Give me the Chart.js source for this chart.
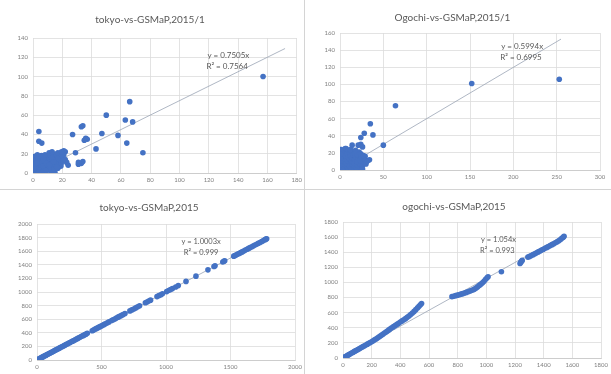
<!DOCTYPE html>
<html>
<head>
<meta charset="utf-8">
<script src="https://cdn.jsdelivr.net/npm/chart.js@4/dist/chart.umd.min.js"></script>
<style>
  html, body { margin: 0; padding: 0; background: #ffffff; }
  body { width: 611px; height: 374px; position: relative; overflow: hidden; }
  .panel { position: absolute; background: #ffffff; box-sizing: border-box; }
  .panel canvas { position: absolute; left: 0; top: 0; }
  #p1 { left: 0; top: 0; width: 305px; height: 190px; border-right: 1px solid #d4d4d4; border-bottom: 1px solid #d4d4d4; }
  #p2 { left: 305px; top: 0; width: 306px; height: 190px; border-bottom: 1px solid #d4d4d4; }
  #p3 { left: 0; top: 190px; width: 305px; height: 184px; border-right: 1px solid #d4d4d4; }
  #p4 { left: 305px; top: 190px; width: 306px; height: 184px; }
</style>
</head>
<body>
<div class="panel" id="p1"><canvas id="c1" width="305" height="190"></canvas></div>
<div class="panel" id="p2"><canvas id="c2" width="306" height="190"></canvas></div>
<div class="panel" id="p3"><canvas id="c3" width="305" height="184"></canvas></div>
<div class="panel" id="p4"><canvas id="c4" width="306" height="184"></canvas></div>
<script>
// ---- Titles ----
const titles = [
  'tokyo-vs-GSMaP,2015/1',
  'Ogochi-vs-GSMaP,2015/1',
  'tokyo-vs-GSMaP,2015',
  'ogochi-vs-GSMaP,2015'
];

// ---- Fitted trendlines (y = slope * x) ----
const slopes = [0.7505, 0.5994, 1.0003, 1.054];
const rSquared = ['0.7564', '0.6995', '0.999', '0.993'];
const slopeLabels = ['0.7505', '0.5994', '1.0003', '1.054'];
const trendEnds = [172, 255, 1780, 1540];

// ---- Axis ranges and tick steps ----
const xMax = [180, 300, 2000, 1800];
const xStep = [20, 50, 500, 200];
const yMax = [140, 160, 2000, 1800];
const yStep = [20, 20, 200, 200];

// ---- Tokyo, January 2015: daily pairs [GSMaP, gauge] ----
const tokyoJan = [
  [157,100],[66,74],[50,60],[63,55],[68,53],[33,48],[34,49],[4,43],[27,40],[47,41],
  [58,39],[36,36],[37,35],[35,34],[4,33],[6,31],[64,31],[43,25],[75,21],[29,21],
  [22,22],[21,23],[20,21],[24,8],[33,10],[34,12],[31,9],[31,11],[15,0.5],
  [0.5,1],[1,3],[1.5,0.5],[2,5],[0.8,8],[1.2,12],[2.5,15],[1,17],[3,2],[3.5,6],
  [4,10],[2,13.5],[4.5,14],[5,3],[5.5,8],[6,12],[6.5,16],[7,1],[7.5,5],[8,9],
  [8.5,13],[9,17],[9.5,3],[10,7],[10.5,11],[11,15],[11.5,19],[12,2],[12.5,6],[13,10],
  [13.5,14],[14,18],[14.5,4],[15,8],[15.5,12],[16,16],[16.5,20],[17,5],[17.5,10],[18,14],
  [18.5,18],[19,7],[19.5,12],[20,16],[21,19],[22,14],[23,11],[3,19],[0.3,4],[0.6,6],
  [1.8,9.5],[2.8,11],[3.2,16],[5.8,18],[7.2,14],[8.2,19],[6.8,7],[9.2,10],[10.8,4],[12.8,16],
  [13.2,20.5],[15.8,19],[17.2,15],[4.2,1.2],[6.2,0.5],[8.8,2.5],[11.2,8.5],[14.2,11.5],[16.2,6.5],[19.2,9.5],
  [20.5,13],[11,21],[13,22],[17,21],[19.5,22]
];

// ---- Ogochi, January 2015: daily pairs [GSMaP, gauge] ----
const ogochiJan = [
  [152,101],[253,106],[64,75],[35,54],[38,41],[28,43],[24,38],[50,29],[21,29],[24,30],
  [26,27],[14,29],[29,16],[34,12],[32,11],[6,25],
  [0.5,1],[1,4],[1.5,8],[2,12],[1,16],[2,20],[1.5,24],[3,2],[4,6],[3.5,10],
  [4.5,14],[3,18],[4,22],[5,1],[6,5],[6.5,9],[5.5,13],[6,17],[7,21],[7,25],
  [8,3],[9,7],[8.5,11],[9,15],[8,19],[10,23],[10,1],[11,5],[12,9],[11,13],
  [12,17],[11.5,21],[13,2],[14,6],[13.5,10],[14,14],[15,18],[14,22],[16,1],[17,4],
  [16.5,8],[17,12],[18,16],[17,20],[19,2],[20,6],[19.5,10],[21,14],[20,18],[22,21],
  [23,3],[24,7],[23,11],[25,15],[24,19],[26,5],[27,9],[28,13],[27,17],[29,11],
  [30,7],[31,10],[2,1],[0.3,6],[0.8,11],[0.4,14],[0.6,19],[12,24],[18,23],[26,1]
];

// ---- Tokyo, 2015: cumulative pairs [GSMaP, gauge] ----
const tokyoYear = [
  [2,2],[8,9],[15,14],[22,23],[30,31],[38,38],[45,46],[52,53],[60,61],[68,68],
  [75,76],[83,84],[90,91],[98,99],[105,107],[113,114],[120,122],[128,129],[136,138],[144,146],
  [152,153],[160,161],[168,170],[176,178],[185,186],[193,195],[202,203],[210,212],[219,221],[228,230],
  [238,239],[247,249],[256,258],[266,267],[276,277],[286,287],[296,297],[306,307],[316,318],[326,328],
  [336,338],[346,348],[357,358],[368,369],[379,380],[390,392],
  [428,430],[438,440],[448,451],[458,461],[470,472],[480,483],[492,494],[505,506],[518,520],[530,532],
  [545,546],[558,560],[578,580],[590,592],[603,604],[615,617],[628,630],[640,641],[655,656],[668,670],
  [682,683],[720,722],[735,737],[750,751],[765,766],[780,782],[795,797],
  [840,842],[852,854],[866,867],[880,880],[930,932],[945,946],[960,960],[972,973],
  [1005,1006],[1020,1022],[1035,1036],[1050,1050],[1075,1074],[1095,1094],[1155,1156],[1232,1233],[1325,1326],
  [1372,1376],[1380,1385],[1440,1441],[1448,1452],[1455,1460],
  [1525,1527],[1535,1537],[1545,1546],[1556,1557],[1566,1567],[1578,1579],[1590,1590],[1602,1603],[1615,1616],[1628,1628],
  [1640,1641],[1652,1653],[1665,1666],[1678,1679],[1690,1691],[1703,1703],[1715,1716],[1728,1729],[1742,1743],[1755,1756],
  [1768,1770],[1775,1778],[1780,1782]
];

// ---- Ogochi, 2015: cumulative pairs [GSMaP, gauge] ----
const ogochiYear = [
  [2,2],[8,9],[15,16],[22,24],[30,32],[38,41],[46,50],[54,58],[62,67],[70,76],
  [78,85],[86,94],[95,103],[104,112],[113,122],[122,132],[131,142],[140,152],[150,162],[160,172],
  [170,183],[180,194],[190,205],[200,216],[210,228],[220,240],[230,252],[240,264],[250,277],[260,290],
  [270,303],[280,316],[290,330],[300,344],[310,358],[320,372],[330,386],[340,400],[352,415],[364,430],
  [376,445],[388,460],[400,476],[412,491],[424,506],[436,521],[448,538],[460,556],[472,575],[484,595],
  [496,617],[508,640],[520,663],[530,685],[540,705],[548,722],
  [760,812],[772,818],[785,825],[798,832],[810,838],[822,845],[835,852],[848,860],[860,868],[872,876],
  [884,885],[896,894],[908,903],[918,912],[928,925],[938,940],[948,955],[956,968],[965,982],[975,1000],
  [985,1020],[995,1042],[1005,1062],[1012,1075],
  [1105,1142],
  [1235,1250],[1240,1265],[1245,1280],[1250,1292],
  [1290,1335],[1302,1345],[1314,1356],[1326,1368],[1338,1380],[1350,1392],[1362,1404],[1374,1416],[1386,1428],[1398,1440],
  [1410,1452],[1422,1464],[1434,1476],[1446,1488],[1458,1500],[1470,1512],[1482,1525],[1494,1538],[1505,1552],[1515,1566],
  [1524,1580],[1532,1592],[1538,1602],[1542,1610]
];

const seriesList = [tokyoJan, ogochiJan, tokyoYear, ogochiYear];

// Panel geometry: y-axis width, x-axis height, right padding, title padding
const panels = [
  { id: 'c1', yW: 33, xH: 17, padR: 5,  tTop: 14, tBot: 12, eq: { x: 119, y: 122, align: 'left' } },
  { id: 'c2', yW: 35, xH: 20, padR: 11, tTop: 12, tBot: 9,  eq: { x: 186, y: 144, align: 'left' } },
  { id: 'c3', yW: 37, xH: 14, padR: 7,  tTop: 12, tBot: 10, eq: { x: 1272, y: 1735, align: 'center' } },
  { id: 'c4', yW: 38, xH: 16, padR: 8,  tTop: 11, tBot: 9,  eq: { x: 963, y: 1561, align: 'left' } }
];

const FONT = 'Lato, "Liberation Sans", "DejaVu Sans", sans-serif';
const BLUE = '#4472C4';
const GRID = '#dcdcdc';
const TEXT = '#595959';

// Plain integer tick labels, no thousands separator
const plainTick = (v) => String(v);

// Draws the trendline equation and R² next to the fitted line
const equationLabel = {
  id: 'equationLabel',
  afterDatasetsDraw(chart, args, opts) {
    const { ctx, scales } = chart;
    const px = scales.x.getPixelForValue(opts.x);
    const py = scales.y.getPixelForValue(opts.y);
    ctx.save();
    ctx.font = opts.size + 'px ' + FONT;
    ctx.fillStyle = TEXT;
    ctx.textAlign = opts.align;
    ctx.textBaseline = 'middle';
    ctx.fillText(opts.line1, px, py);
    ctx.fillText(opts.line2, px + (opts.align === 'left' ? -1 : 0), py + opts.gap);
    ctx.restore();
  }
};

panels.forEach((p, i) => {
  const pts = seriesList[i].map(([x, y]) => ({ x, y }));
  const end = trendEnds[i];
  new Chart(document.getElementById(p.id), {
    type: 'scatter',
    data: {
      datasets: [
        {
          label: titles[i],
          data: pts,
          backgroundColor: BLUE,
          borderColor: BLUE,
          borderWidth: 0,
          pointRadius: 2.8,
          pointHoverRadius: 2.8
        },
        {
          label: 'trend',
          type: 'line',
          data: [{ x: 0, y: 0 }, { x: end, y: slopes[i] * end }],
          borderColor: 'rgba(150,160,178,0.85)',
          borderWidth: 0.9,
          pointRadius: 0,
          fill: false
        }
      ]
    },
    options: {
      responsive: false,
      animation: false,
      devicePixelRatio: 1,
      layout: { padding: { left: 0, right: p.padR, top: 0, bottom: 0 } },
      plugins: {
        legend: { display: false },
        tooltip: { enabled: false },
        title: {
          display: true,
          text: titles[i],
          color: TEXT,
          font: { family: FONT, size: 10, weight: 'normal', lineHeight: 1.2 },
          padding: { top: p.tTop, bottom: p.tBot }
        },
        equationLabel: {
          x: p.eq.x, y: p.eq.y, align: p.eq.align,
          line1: 'y = ' + slopeLabels[i] + 'x',
          line2: 'R² = ' + rSquared[i],
          size: i < 2 ? 8 : 7.5,
          gap: 11
        }
      },
      scales: {
        x: {
          type: 'linear',
          min: 0, max: xMax[i],
          afterFit(s) { s.height = p.xH; },
          ticks: { stepSize: xStep[i], callback: plainTick, color: '#7f7f7f', font: { family: FONT, size: 6 }, padding: 3, maxRotation: 0, autoSkip: false },
          grid: { color: GRID, lineWidth: 0.8, drawTicks: false },
          border: { display: true, color: '#c8c8c8', width: 0.8 }
        },
        y: {
          type: 'linear',
          min: 0, max: yMax[i],
          afterFit(s) { s.width = p.yW; },
          ticks: { stepSize: yStep[i], callback: plainTick, color: '#7f7f7f', font: { family: FONT, size: 6 }, padding: 5, autoSkip: false },
          grid: { color: GRID, lineWidth: 0.8, drawTicks: false },
          border: { display: false }
        }
      }
    },
    plugins: [equationLabel]
  });
});
</script>
</body>
</html>
